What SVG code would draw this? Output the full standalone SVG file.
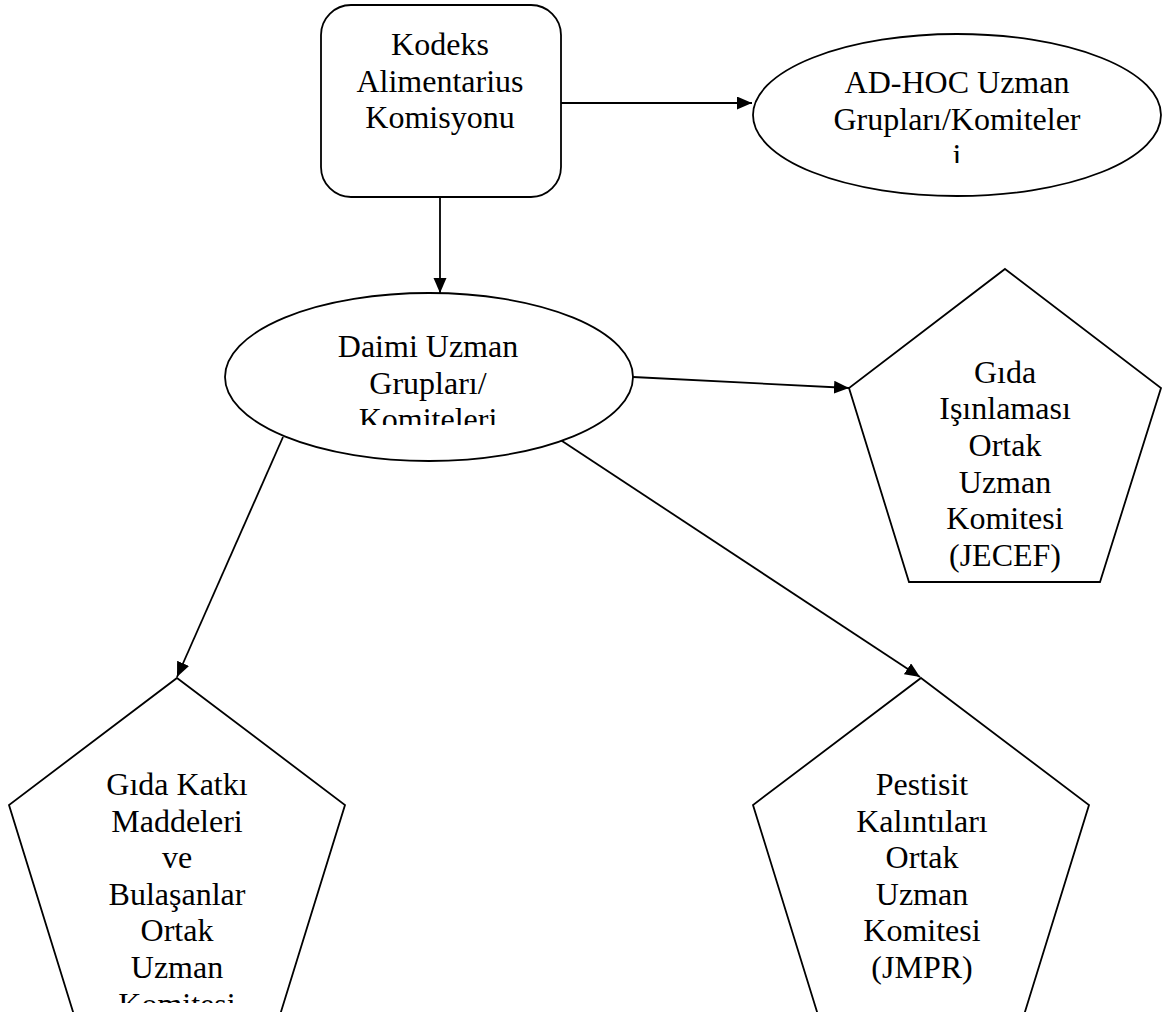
<svg xmlns="http://www.w3.org/2000/svg" width="1163" height="1012" viewBox="0 0 1163 1012">
<style>
.s{fill:#fff;stroke:#000;stroke-width:1.8}
.t{font-family:"Liberation Serif","Times New Roman",serif;font-size:32px;fill:#000;text-anchor:middle}
.c{stroke:#000;stroke-width:1.8;fill:none;marker-end:url(#ah)}
</style>
<defs>
<marker id="ah" markerUnits="userSpaceOnUse" markerWidth="16" markerHeight="14" refX="15" refY="6.5" orient="auto">
<path d="M0,0 L15,6.5 L0,13 z" fill="#000"/>
</marker>
<clipPath id="c1"><rect x="740" y="0" width="423" height="163"/></clipPath>
<clipPath id="c2"><rect x="220" y="280" width="420" height="145"/></clipPath>
<clipPath id="c3"><rect x="0" y="680" width="360" height="323"/></clipPath>
</defs>
<rect width="1163" height="1012" fill="#fff"/>
<g id="connectors">
<line class="c" x1="561" y1="103" x2="752" y2="103"/>
<line class="c" x1="440" y1="197" x2="440" y2="293"/>
<line class="c" x1="633" y1="377" x2="849" y2="388"/>
<line class="c" x1="283" y1="437" x2="177" y2="677"/>
<line class="c" x1="556" y1="437" x2="920" y2="677"/>
</g>
<g id="kodeks">
<rect class="s" x="321" y="5" width="240" height="192" rx="30"/>
<text class="t" x="440" y="55">Kodeks</text>
<text class="t" x="440" y="92">Alimentarius</text>
<text class="t" x="440" y="128">Komisyonu</text>
</g>
<g id="adhoc">
<ellipse class="s" cx="957" cy="115" rx="204" ry="81"/>
<g clip-path="url(#c1)">
<text class="t" x="957" y="93">AD-HOC Uzman</text>
<text class="t" x="957" y="130">Grupları/Komiteler</text>
<text class="t" x="957" y="166">i</text>
</g>
</g>
<g id="daimi">
<ellipse class="s" cx="429" cy="377" rx="204" ry="84"/>
<g clip-path="url(#c2)">
<text class="t" x="428" y="357">Daimi Uzman</text>
<text class="t" x="428" y="394">Grupları/</text>
<text class="t" x="428" y="430">Komiteleri</text>
</g>
</g>
<g id="jecef">
<polygon class="s" points="1005,269 1161,388 1100,582 909,582 849,388"/>
<text class="t" x="1005" y="383">Gıda</text>
<text class="t" x="1005" y="419">Işınlaması</text>
<text class="t" x="1005" y="456">Ortak</text>
<text class="t" x="1005" y="493">Uzman</text>
<text class="t" x="1005" y="529">Komitesi</text>
<text class="t" x="1005" y="566">(JECEF)</text>
</g>
<g id="katki">
<polygon class="s" points="177,678 345,805 280,1015 74,1015 9,805"/>
<g clip-path="url(#c3)">
<text class="t" x="177" y="795">Gıda Katkı</text>
<text class="t" x="177" y="832">Maddeleri</text>
<text class="t" x="177" y="868">ve</text>
<text class="t" x="177" y="905">Bulaşanlar</text>
<text class="t" x="177" y="941">Ortak</text>
<text class="t" x="177" y="978">Uzman</text>
<text class="t" x="177" y="1015">Komitesi</text>
</g>
</g>
<g id="jmpr">
<polygon class="s" points="921,678 1089,805 1024,1015 818,1015 753,805"/>
<text class="t" x="922" y="795">Pestisit</text>
<text class="t" x="922" y="832">Kalıntıları</text>
<text class="t" x="922" y="868">Ortak</text>
<text class="t" x="922" y="905">Uzman</text>
<text class="t" x="922" y="941">Komitesi</text>
<text class="t" x="922" y="978">(JMPR)</text>
</g>
</svg>
